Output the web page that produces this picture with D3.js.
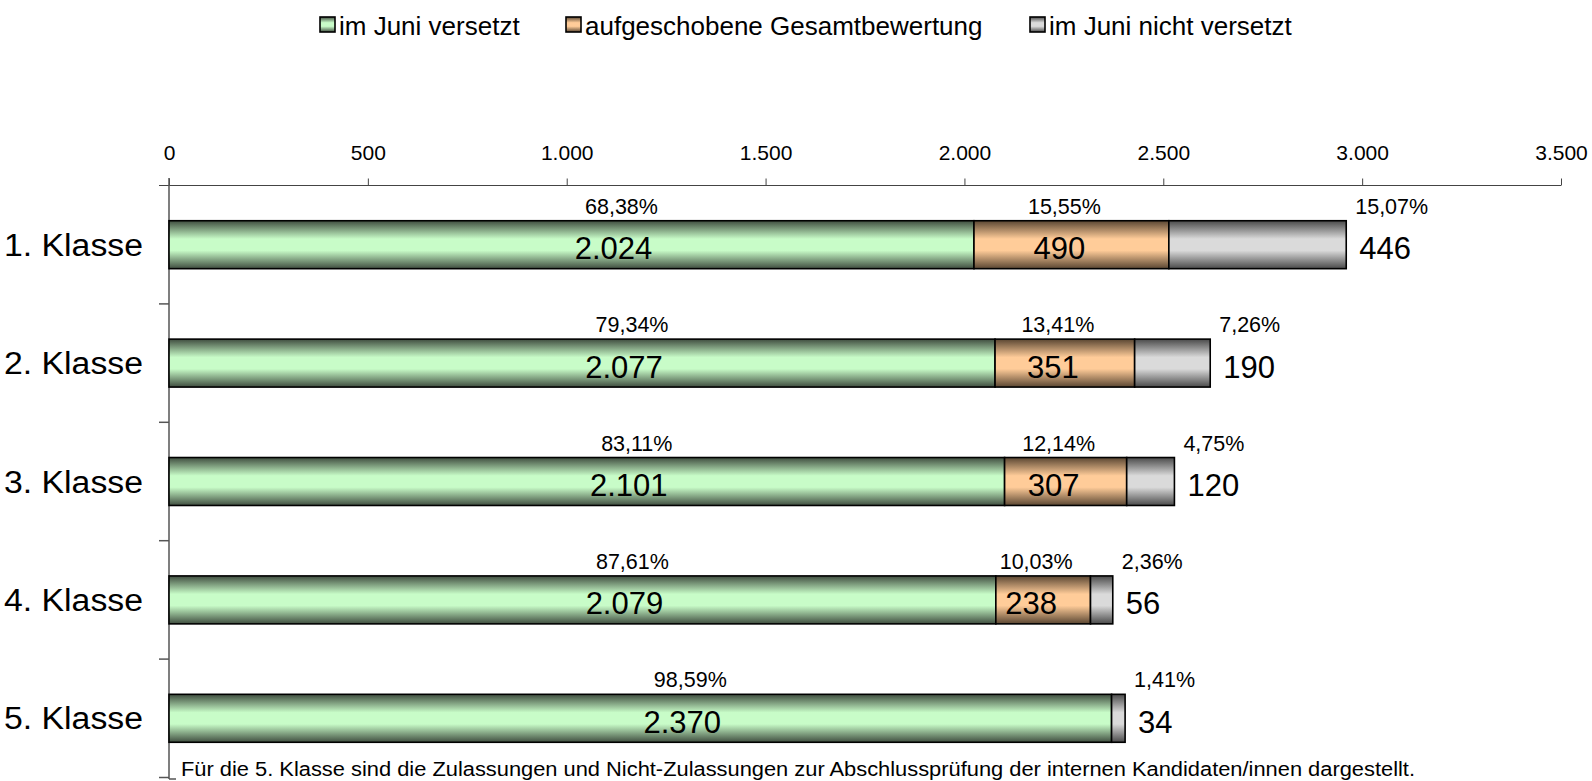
<!DOCTYPE html>
<html>
<head>
<meta charset="utf-8">
<script src="https://cdn.jsdelivr.net/npm/d3@7"></script>
<style>
  body { margin: 0; background: #fff; }
  text { font-family: "Liberation Sans", Arial, sans-serif; fill: #000; }
</style>
</head>
<body>
<div id="chart"></div>
<script>
const width = 1592, height = 781;

// data
var categories = ["1. Klasse", "2. Klasse", "3. Klasse", "4. Klasse", "5. Klasse"];
var versetzt = [2024, 2077, 2101, 2079, 2370];
var aufgeschoben = [490, 351, 307, 238, 0];
var nichtVersetzt = [446, 190, 120, 56, 34];
var pctVersetzt = ["68,38%", "79,34%", "83,11%", "87,61%", "98,59%"];
var pctAufgeschoben = ["15,55%", "13,41%", "12,14%", "10,03%", ""];
var pctNicht = ["15,07%", "7,26%", "4,75%", "2,36%", "1,41%"];
var seriesNames = ["im Juni versetzt", "aufgeschobene Gesamtbewertung", "im Juni nicht versetzt"];
var xTicks = [0, 500, 1000, 1500, 2000, 2500, 3000, 3500];
var footnote = "Für die 5. Klasse sind die Zulassungen und Nicht-Zulassungen zur Abschlussprüfung der internen Kandidaten/innen dargestellt.";

var keys = ["v", "a", "n"];
var rows = categories.map(function(c, i) {
    return {cat: c, v: versetzt[i], a: aufgeschoben[i], n: nichtVersetzt[i], i: i};
});
var pcts = [pctVersetzt, pctAufgeschoben, pctNicht];

// gradient colours: edge, centre
var colours = [["#3f4d3f", "#c8fcc8"], ["#5a4632", "#ffcc99"], ["#4a4a4a", "#dadada"]];

var svg = d3.select("#chart").append("svg")
    .attr("width", width).attr("height", height);

var defs = svg.append("defs");
colours.forEach(function(c, k) {
    var g = defs.append("linearGradient").attr("id", "grad" + k)
        .attr("x1", 0).attr("y1", 0).attr("x2", 0).attr("y2", 1);
    g.append("stop").attr("offset", "0%").attr("stop-color", c[0]);
    g.append("stop").attr("offset", "38%").attr("stop-color", c[1]);
    g.append("stop").attr("offset", "62%").attr("stop-color", c[1]);
    g.append("stop").attr("offset", "100%").attr("stop-color", c[0]);
});

var x = d3.scaleLinear().domain([0, 3500]).range([169, 1561]);
var y = d3.scaleBand().domain(categories).range([185.5, 777.5])
    .paddingInner(0.595).paddingOuter(0.2975);

var fmt = function(d) { return d3.format(",")(d).replace(/,/g, "."); };

// top axis
var xAxis = svg.append("g")
    .attr("transform", "translate(0,185.5)")
    .call(d3.axisTop(x).tickValues(xTicks).tickFormat(fmt).tickSize(7).tickPadding(19).tickSizeOuter(0));
xAxis.select(".domain").remove();
xAxis.selectAll("line").attr("stroke", "#444");
xAxis.selectAll("text").style("font-size", "21px").style("font-family", "Liberation Sans, Arial, sans-serif");
svg.append("line").attr("x1", 159).attr("x2", x(3500)).attr("y1", 185.5).attr("y2", 185.5)
    .attr("stroke", "#444");

// left axis line and band ticks
svg.append("line").attr("x1", 169).attr("x2", 169).attr("y1", 178).attr("y2", 779)
    .attr("stroke", "#555").attr("stroke-width", 1.5);
d3.range(1, categories.length + 1).forEach(function(k) {
    var yy = y.range()[0] + k * y.step();
    svg.append("line").attr("x1", 159).attr("x2", 169).attr("y1", yy).attr("y2", yy)
        .attr("stroke", "#555").attr("stroke-width", 1.5);
});

// category labels
svg.selectAll(".cat").data(categories).enter().append("text")
    .attr("x", 143).attr("y", function(d) { return y(d) + y.bandwidth() / 2 + 11; })
    .attr("text-anchor", "end").style("font-size", "31px")
    .attr("textLength", 139).attr("lengthAdjust", "spacingAndGlyphs")
    .text(function(d) { return d; });

var stacked = d3.stack().keys(keys)(rows);

var layer = svg.selectAll(".layer").data(stacked).enter().append("g")
    .attr("fill", function(d, k) { return "url(#grad" + k + ")"; });

layer.selectAll("rect").data(function(d) { return d.filter(function(p) { return p[1] > p[0]; }); })
    .enter().append("rect")
    .attr("x", function(p) { return x(p[0]); })
    .attr("width", function(p) { return x(p[1]) - x(p[0]); })
    .attr("y", function(p) { return y(p.data.cat); })
    .attr("height", y.bandwidth())
    .attr("stroke", "#000").attr("stroke-width", 1.6);

// labels
stacked.forEach(function(s, k) {
    s.forEach(function(p) {
        if (p[1] <= p[0]) return;
        var i = p.data.i;
        var top = y(p.data.cat), mid = top + y.bandwidth() / 2;
        var cx = (x(p[0]) + x(p[1])) / 2;
        var vx, px, anchor;
        if (k === 0) { vx = cx + 42; px = cx + 50; anchor = "middle"; }
        else if (k === 1) { vx = cx - 12; px = cx - 7; anchor = "middle"; }
        else { vx = x(p[1]) + 13; px = x(p[1]) + 9; anchor = "start"; }
        svg.append("text").attr("x", vx).attr("y", mid + 14.5)
            .attr("text-anchor", anchor).style("font-size", "31px")
            .text(fmt(p[1] - p[0]));
        svg.append("text").attr("x", px).attr("y", top - 7)
            .attr("text-anchor", anchor).style("font-size", "21.5px")
            .text(pcts[k][i]);
    });
});

// legend
var legendX = [320, 566, 1030];
seriesNames.forEach(function(n, k) {
    svg.append("rect").attr("x", legendX[k]).attr("y", 17).attr("width", 15).attr("height", 15)
        .attr("fill", "url(#grad" + k + ")").attr("stroke", "#000").attr("stroke-width", 1.6);
    svg.append("text").attr("x", legendX[k] + 19).attr("y", 34.5)
        .style("font-size", "26px").text(n);
});

// footnote
svg.append("text").attr("x", 181).attr("y", 776).style("font-size", "20px")
    .attr("textLength", 1234).attr("lengthAdjust", "spacingAndGlyphs").text(footnote);
svg.append("line").attr("x1", 169).attr("x2", 176).attr("y1", 779).attr("y2", 779)
    .attr("stroke", "#555").attr("stroke-width", 1.5);
</script>
</body>
</html>
